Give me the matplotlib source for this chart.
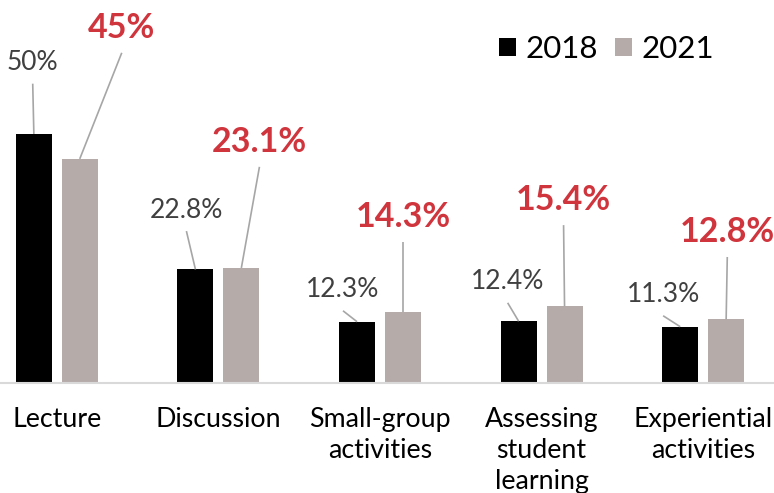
import matplotlib
matplotlib.use('Agg')
import matplotlib.pyplot as plt
import numpy as np

plt.rcParams['font.family'] = ['Lato', 'DejaVu Sans']

categories = ['Lecture', 'Discussion', 'Small-group\nactivities',
              'Assessing\nstudent\nlearning', 'Experiential\nactivities']
years = ['2018', '2021']
values_2018 = [50, 22.8, 12.3, 12.4, 11.3]
values_2021 = [45, 23.1, 14.3, 15.4, 12.8]

# where the data labels sit: (offset from group centre, height in data units)
label_pos_2018 = [(-0.149, 64.3), (-0.198, 34.7), (-0.229, 18.7), (-0.21, 20.3), (-0.248, 17.7)]
label_pos_2021 = [(0.402, 71.3), (0.254, 48.4), (0.142, 33.3), (0.136, 36.7), (0.149, 30.3)]

col_2018 = '#000000'
col_2021 = '#B5ACAA'
red = '#D0343C'
label_grey = '#404040'
line_grey = '#A6A6A6'

fig = plt.figure(figsize=(7.74, 4.93), dpi=100)
ax = fig.add_axes([-24 / 774, 110 / 493, 808 / 774, 383 / 493])

x = np.arange(len(categories))
width = 0.223
off = 0.142
b1 = ax.bar(x - off, values_2018, width, color=col_2018, label=years[0])
b2 = ax.bar(x + off, values_2021, width, color=col_2021, label=years[1])

ax.set_xlim(-0.5, 4.5)
ax.set_ylim(0, 76.9)

for i in range(len(categories)):
    # 2018 labels, plain grey
    lx, ly = label_pos_2018[i]
    ax.text(x[i] + lx, ly, f'{values_2018[i]:g}%', ha='center', va='center',
            fontsize=19, color=label_grey)
    ax.plot([x[i] + lx, x[i] - off], [ly - 4.2, values_2018[i]],
            color=line_grey, lw=1.2, solid_capstyle='butt')
    # 2021 labels, bold red
    lx, ly = label_pos_2021[i]
    ax.text(x[i] + lx, ly, f'{values_2021[i]:g}%', ha='center', va='center',
            fontsize=24.5, color=red, fontweight='bold')
    ax.plot([x[i] + lx, x[i] + off], [ly - 5.0, values_2021[i]],
            color=line_grey, lw=1.2, solid_capstyle='butt')

ax.set_xticks(x)
ax.set_xticklabels(categories, fontsize=19.3, color='#000000', va='top', linespacing=1.3)
ax.tick_params(axis='x', length=0, pad=17)
ax.set_yticks([])

for s in ['top', 'right', 'left']:
    ax.spines[s].set_visible(False)
ax.spines['bottom'].set_color('#D9D9D9')
ax.spines['bottom'].set_linewidth(1.5)

leg = fig.legend(handles=[b1, b2], labels=years, loc='upper right',
                 bbox_to_anchor=(714 / 774, 1 - 35 / 493), ncol=2, frameon=False,
                 fontsize=22.5, handlelength=0.55, handleheight=0.55, handletextpad=0.3,
                 columnspacing=0.55, borderaxespad=0, borderpad=0)

fig.savefig('out.png', dpi=100)
